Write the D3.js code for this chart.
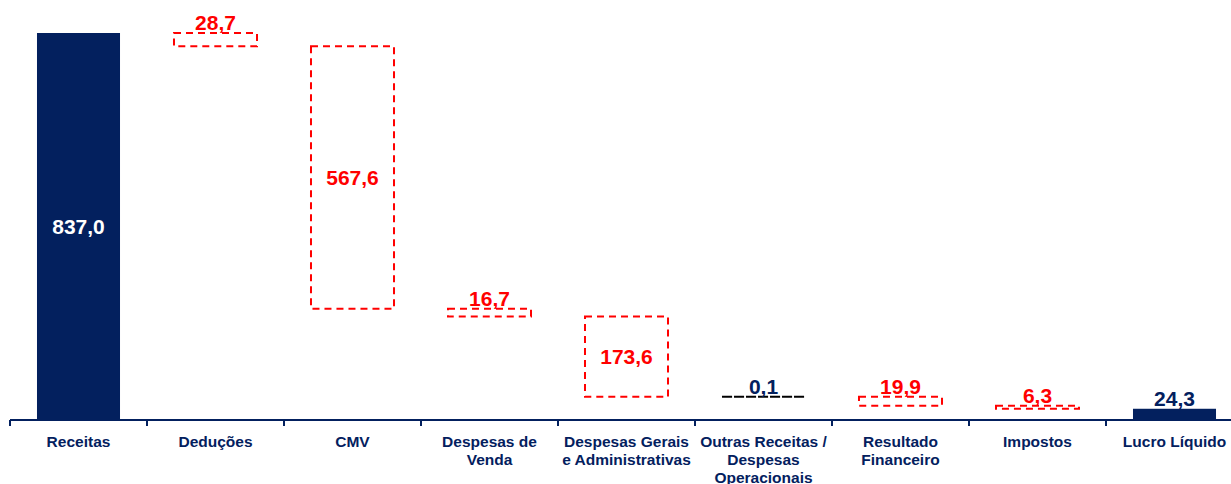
<!DOCTYPE html>
<html>
<head>
<meta charset="utf-8">
<script src="https://cdn.jsdelivr.net/npm/d3@7"></script>
<style>
  html, body { margin: 0; padding: 0; background: #ffffff; }
  svg { display: block; }
  text { font-family: "Liberation Sans", Arial, sans-serif; font-weight: bold; }
</style>
</head>
<body>
<svg id="chart" width="1231" height="484"></svg>
<script>
// Waterfall: revenue down to net profit (R$ milhões)
const categories = [
  ["Receitas"],
  ["Deduções"],
  ["CMV"],
  ["Despesas de", "Venda"],
  ["Despesas Gerais", "e Administrativas"],
  ["Outras Receitas /", "Despesas", "Operacionais"],
  ["Resultado", "Financeiro"],
  ["Impostos"],
  ["Lucro Líquido"]
];
const values = [837.0, -28.7, -567.6, -16.7, -173.6, 0.1, -19.9, -6.3, 24.3];
const isTotal = [true, false, false, false, false, false, false, false, true];

const NAVY = "#03205e";
const RED = "#ff0000";

const svg = d3.select("#chart");
const W = 1231, H = 484;
const baseY = 420;

// build running start/end for each step
let running = 0;
const steps = values.map((v, i) => {
  let y0, y1;
  if (isTotal[i]) { y0 = 0; y1 = v; running = v; }
  else { y0 = running; y1 = running + v; running = y1; }
  return { i, v, y0, y1, total: isTotal[i], cat: categories[i] };
});

const x = d3.scaleBand()
  .domain(d3.range(categories.length))
  .range([10, 10 + 137 * categories.length])
  .padding(0);

const y = d3.scaleLinear().domain([0, 837]).range([baseY, 33]);

const barW = x.bandwidth() * 0.606;
const fmt = v => d3.format(".1f")(Math.abs(v)).replace(".", ",");

const g = svg.append("g");

steps.forEach(s => {
  const cx = x(s.i) + x.bandwidth() / 2;
  const top = y(Math.max(s.y0, s.y1));
  const bot = y(Math.min(s.y0, s.y1));
  const h = bot - top;
  if (s.total) {
    g.append("rect")
      .attr("x", cx - barW / 2).attr("y", top)
      .attr("width", barW).attr("height", h)
      .attr("fill", NAVY);
  } else {
    g.append("rect")
      .attr("x", cx - barW / 2).attr("y", top)
      .attr("width", barW).attr("height", Math.max(h, 0.01))
      .attr("fill", "none")
      .attr("stroke", s.v >= 0 ? "#000000" : RED)
      .attr("stroke-width", 2)
      .attr("stroke-dasharray", "7,5");
  }
  const inside = h > 40;
  const color = inside && s.total ? "#ffffff" : (s.total || s.v >= 0 ? NAVY : RED);
  g.append("text")
    .attr("x", cx)
    .attr("y", inside ? (top + bot) / 2 : top - 3)
    .attr("dy", inside ? "0.36em" : 0)
    .attr("text-anchor", "middle")
    .attr("font-size", 21)
    .attr("fill", color)
    .text(fmt(s.v));
});

// category axis
const axis = svg.append("g");
axis.append("line")
  .attr("x1", 10).attr("x2", W)
  .attr("y1", baseY).attr("y2", baseY)
  .attr("stroke", NAVY).attr("stroke-width", 2);

categories.forEach((c, i) => {
  axis.append("line")
    .attr("x1", x(i)).attr("x2", x(i))
    .attr("y1", baseY).attr("y2", baseY + 6)
    .attr("stroke", NAVY).attr("stroke-width", 2);
  const t = axis.append("text")
    .attr("text-anchor", "middle")
    .attr("font-size", 15.5)
    .attr("fill", NAVY);
  c.forEach((line, k) => {
    t.append("tspan")
      .attr("x", x(i) + x.bandwidth() / 2)
      .attr("y", 447 + k * 18)
      .text(line);
  });
});
</script>
</body>
</html>
